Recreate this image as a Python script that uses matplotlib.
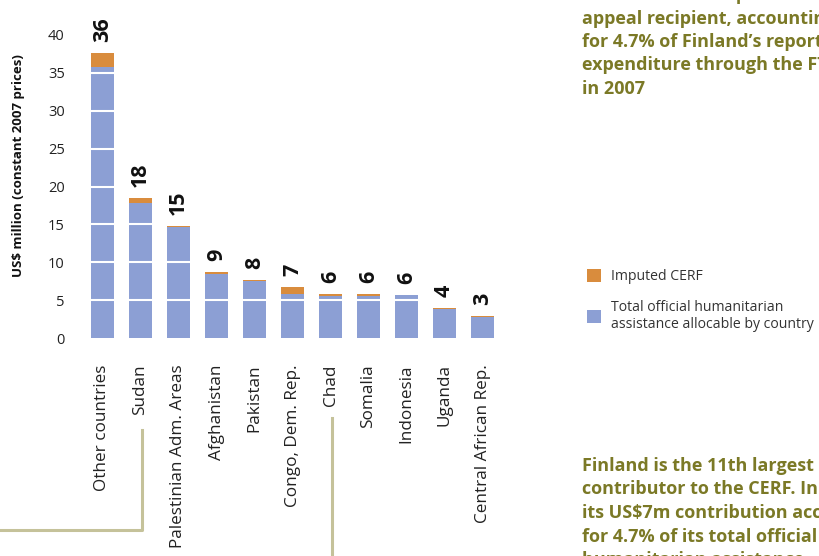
import numpy as np
import matplotlib.pyplot as plt
from matplotlib.lines import Line2D

plt.rcParams['font.family'] = ['Open Sans', 'DejaVu Sans']

countries = ['Other countries', 'Sudan', 'Palestinian Adm. Areas', 'Afghanistan',
             'Pakistan', 'Congo, Dem. Rep.', 'Chad', 'Somalia', 'Indonesia',
             'Uganda', 'Central African Rep.']
total_ha = [35.8, 17.8, 14.6, 8.5, 7.5, 5.8, 5.6, 5.6, 5.7, 3.8, 2.8]
cerf = [1.8, 0.7, 0.2, 0.2, 0.2, 0.9, 0.15, 0.15, 0.0, 0.15, 0.1]
value_labels = ['36', '18', '15', '9', '8', '7', '6', '6', '6', '4', '3']
yticks = [0, 5, 10, 15, 20, 25, 30, 35, 40]

blue = '#8c9fd4'
orange = '#d98c3d'
olive = '#7b7926'
W, H = 819, 556

fig = plt.figure(figsize=(W / 100, H / 100), dpi=100)
ax = fig.add_axes([80 / W, 218 / H, 432 / W, 303 / H])

x = np.arange(len(countries))
b1 = ax.bar(x, total_ha, width=0.6, color=blue, zorder=2,
            label='Total official humanitarian\nassistance allocable by country')
b2 = ax.bar(x, cerf, width=0.6, bottom=total_ha, color=orange, zorder=2,
            label='Imputed CERF')

# white gridlines cut through the bars
for t in yticks[1:-1]:
    ax.axhline(t, color='white', lw=1.5, zorder=3)

ax.set_xlim(-0.592, 10.776)
ax.set_ylim(0, 40)
ax.set_yticks(yticks)
ax.set_yticklabels([str(t) for t in yticks], fontsize=10.5, color='#222222')
ax.tick_params(axis='y', length=0, pad=11)
ax.set_xticks([])
for s in ax.spines.values():
    s.set_visible(False)

ax.set_ylabel('US$ million (constant 2007 prices)', fontsize=9.5, fontweight='bold',
              color='#111111')
ax.yaxis.set_label_coords(-55 / 432, 0.57)

for xi, t, c, lab in zip(x, total_ha, cerf, value_labels):
    ax.annotate(lab, (xi, t + c), xytext=(0, 8), textcoords='offset points',
                rotation=90, ha='center', va='bottom', fontsize=15.5,
                fontweight='bold', color='#111111', annotation_clip=False)
    ax.annotate(countries[xi], (xi, 0), xytext=(0, -19), textcoords='offset points',
                rotation=90, ha='center', va='top', fontsize=12.3,
                color='#222222', annotation_clip=False)

fig.legend(handles=[b2, b1], loc='upper left', bbox_to_anchor=(574 / W, 1 - 256 / H),
           frameon=False, fontsize=10.1, handlelength=1.0, handleheight=1.05,
           handletextpad=0.75, labelspacing=1.15, labelcolor='#333333')

# olive connector lines
line_kw = dict(color='#c5c29a', lw=2.2, transform=fig.transFigure)
fig.add_artist(Line2D([0, 142 / W, 142 / W], [1 - 530 / H, 1 - 530 / H, 1 - 430 / H], **line_kw))
fig.add_artist(Line2D([332 / W, 332 / W], [1 - 418 / H, 0], **line_kw))

text_kw = dict(fontsize=13, fontweight='bold', color=olive, ha='left', va='center',
               family=['Open Sans', 'DejaVu Sans'])
top_lines = ['Sudan was the top UN', 'appeal recipient, accounting',
             'for 4.7% of Finland\u2019s reported', 'expenditure through the FTS',
             'in 2007']
for i, s in enumerate(top_lines):
    fig.text(582 / W, 1 - (-5 + 23.5 * i) / H, s, **text_kw)

bottom_lines = ['Finland is the 11th largest', 'contributor to the CERF. In 2007',
                'its US$7m contribution accounted', 'for 4.7% of its total official',
                'humanitarian assistance']
for i, s in enumerate(bottom_lines):
    fig.text(582 / W, 1 - (466 + 23.5 * i) / H, s, **text_kw)

fig.savefig('out.png', dpi=100)
